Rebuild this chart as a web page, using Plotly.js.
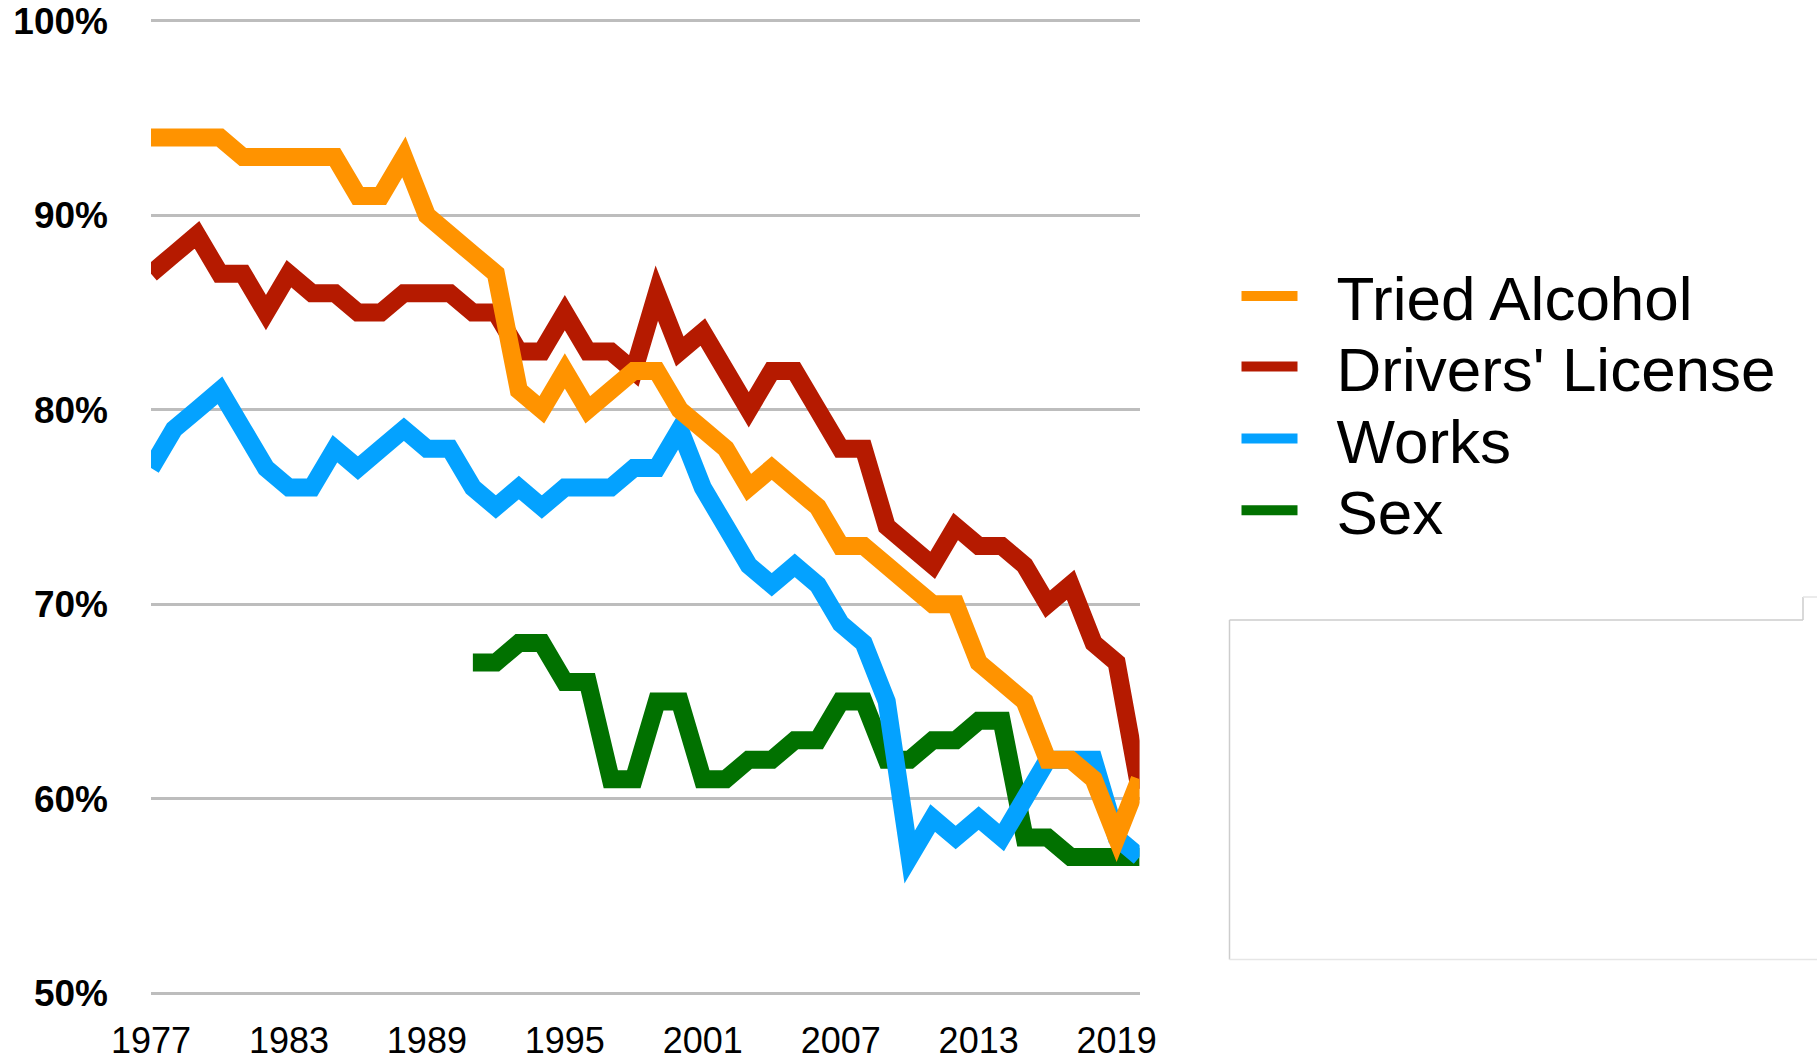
<!DOCTYPE html>
<html>
<head>
<meta charset="utf-8">
<script src="https://cdn.plot.ly/plotly-3.0.1.min.js"></script>
<style>
  html, body { margin: 0; padding: 0; background: #ffffff; }
  #chart { width: 1817px; height: 1064px; }
  #chart .scatterlayer path.js-line { stroke-linejoin: miter !important; stroke-miterlimit: 6 !important; }
</style>
</head>
<body>
<div id="chart"></div>
<script>
// ---- data ----
const years = [1977,1978,1979,1980,1981,1982,1983,1984,1985,1986,1987,1988,1989,1990,1991,1992,1993,1994,1995,1996,1997,1998,1999,2000,2001,2002,2003,2004,2005,2006,2007,2008,2009,2010,2011,2012,2013,2014,2015,2016,2017,2018,2019,2020];

const triedAlcohol = [94,94,94,94,93,93,93,93,93,91,91,93,90,89,88,87,81,80,82,80,81,82,82,80,79,78,76,77,76,75,73,73,72,71,70,70,67,66,65,62,62,61,58,61];

const driversLicense = [87,88,89,87,87,85,87,86,86,85,85,86,86,86,85,85,83,83,85,83,83,82,86,83,84,82,80,82,82,80,78,78,74,73,72,74,73,73,72,70,71,68,67,60.5];

const works = [77,79,80,81,79,77,76,76,78,77,78,79,78,78,76,75,76,75,76,76,76,77,77,79,76,74,72,71,72,71,69,68,65,57,59,58,59,58,60,62,62,62,58,57];

const sex = [null,null,null,null,null,null,null,null,null,null,null,null,null,null,67,67,68,68,66,66,61,61,65,65,61,61,62,62,63,63,65,65,62,62,63,63,64,64,58,58,57,57,57,57];

const seriesNames = ["Tried Alcohol", "Drivers' License", "Works", "Sex"];
const seriesColors = ["#ff9300", "#b51a00", "#04a2ff", "#017100"];
const xTickVals = [1977, 1983, 1989, 1995, 2001, 2007, 2013, 2019];
const yTickVals = [50, 60, 70, 80, 90, 100];

// ---- geometry ----
const W = 1817, H = 1064;
const yRange = [49.9, 100.1];
const mL = 151, mR = 0, mT = 19, mB = 69;
const pw = W - mL - mR, ph = H - mT - mB;
const px = v => (v - mL) / pw;
const py = v => (H - mB - v) / ph;

// ---- traces (drawing order: Sex, Drivers' License, Works, Tried Alcohol) ----
const seriesValues = [triedAlcohol, driversLicense, works, sex];
const drawOrder = [3, 1, 2, 0];
const traces = [];
drawOrder.forEach(i => {
  traces.push({
    type: 'scatter', mode: 'lines',
    x: years, y: seriesValues[i],
    name: seriesNames[i],
    line: { color: seriesColors[i], width: 18, simplify: false },
    connectgaps: false,
    showlegend: false,
    hoverinfo: 'x+y+name'
  });
});
// legend entries, one legend per row
const legendIds = ['legend', 'legend2', 'legend3', 'legend4'];
[0, 1, 2, 3].forEach(i => {
  traces.push({
    type: 'scatter', mode: 'lines',
    x: [null], y: [null],
    name: seriesNames[i],
    legend: legendIds[i],
    line: { color: seriesColors[i], width: 12, dash: '56px,600px' },
    showlegend: true,
    hoverinfo: 'skip'
  });
});

const boxColor = '#cdcdcd';
const shapes = [
  { type: 'line', xref: 'paper', yref: 'paper', x0: px(1229.5), x1: px(1229.5), y0: py(620), y1: py(959.5), line: { color: boxColor, width: 1.5 } },
  { type: 'line', xref: 'paper', yref: 'paper', x0: px(1229.5), x1: px(1803), y0: py(620), y1: py(620), line: { color: boxColor, width: 1.5 } },
  { type: 'line', xref: 'paper', yref: 'paper', x0: px(1803), x1: px(1803), y0: py(620), y1: py(597), line: { color: boxColor, width: 1.5 } },
  { type: 'line', xref: 'paper', yref: 'paper', x0: px(1803), x1: 1, y0: py(597), y1: py(597), line: { color: '#e4e4e4', width: 1.5 } },
  { type: 'line', xref: 'paper', yref: 'paper', x0: px(1229.5), x1: 1, y0: py(959.5), y1: py(959.5), line: { color: '#e6e6e6', width: 1.5 } }
];

const legendRowsY = [297.8, 368.5, 440.3, 512.2];
const legendFont = { family: '"Liberation Sans", Arial, sans-serif', size: 62, color: '#000000' };

const layout = {
  width: W, height: H,
  margin: { l: mL, r: mR, t: mT, b: mB, pad: 0 },
  paper_bgcolor: '#ffffff', plot_bgcolor: '#ffffff',
  font: { family: '"Liberation Sans", Arial, Helvetica, sans-serif', color: '#000000' },
  xaxis: {
    domain: [0, (1139.6 - mL) / pw],
    range: [1977, 2020],
    tickvals: xTickVals,
    ticktext: xTickVals.map(String),
    showgrid: false, zeroline: false, showline: false,
    ticks: '', ticklabelstandoff: 21,
    tickfont: { family: '"Liberation Sans", Arial, sans-serif', size: 36, color: '#000000' },
    fixedrange: true
  },
  yaxis: {
    range: yRange,
    tickvals: yTickVals,
    ticktext: yTickVals.map(v => v + '%'),
    showgrid: true, gridcolor: '#bdbdbd', gridwidth: 3,
    zeroline: false, showline: false,
    ticks: '', ticklabelstandoff: 42,
    tickfont: { family: '"Liberation Sans", Arial, sans-serif', size: 37, weight: 'bold', color: '#000000' },
    fixedrange: true
  },
  showlegend: true,
  shapes: shapes
};
legendIds.forEach((id, i) => {
  layout[id] = {
    x: px(1236.5), xanchor: 'left',
    y: py(legendRowsY[i] - 1.7), yanchor: 'middle',
    bgcolor: 'rgba(0,0,0,0)', borderwidth: 0,
    font: legendFont,
    itemwidth: 90
  };
});

Plotly.newPlot('chart', traces, layout, { displayModeBar: false });
</script>
</body>
</html>
